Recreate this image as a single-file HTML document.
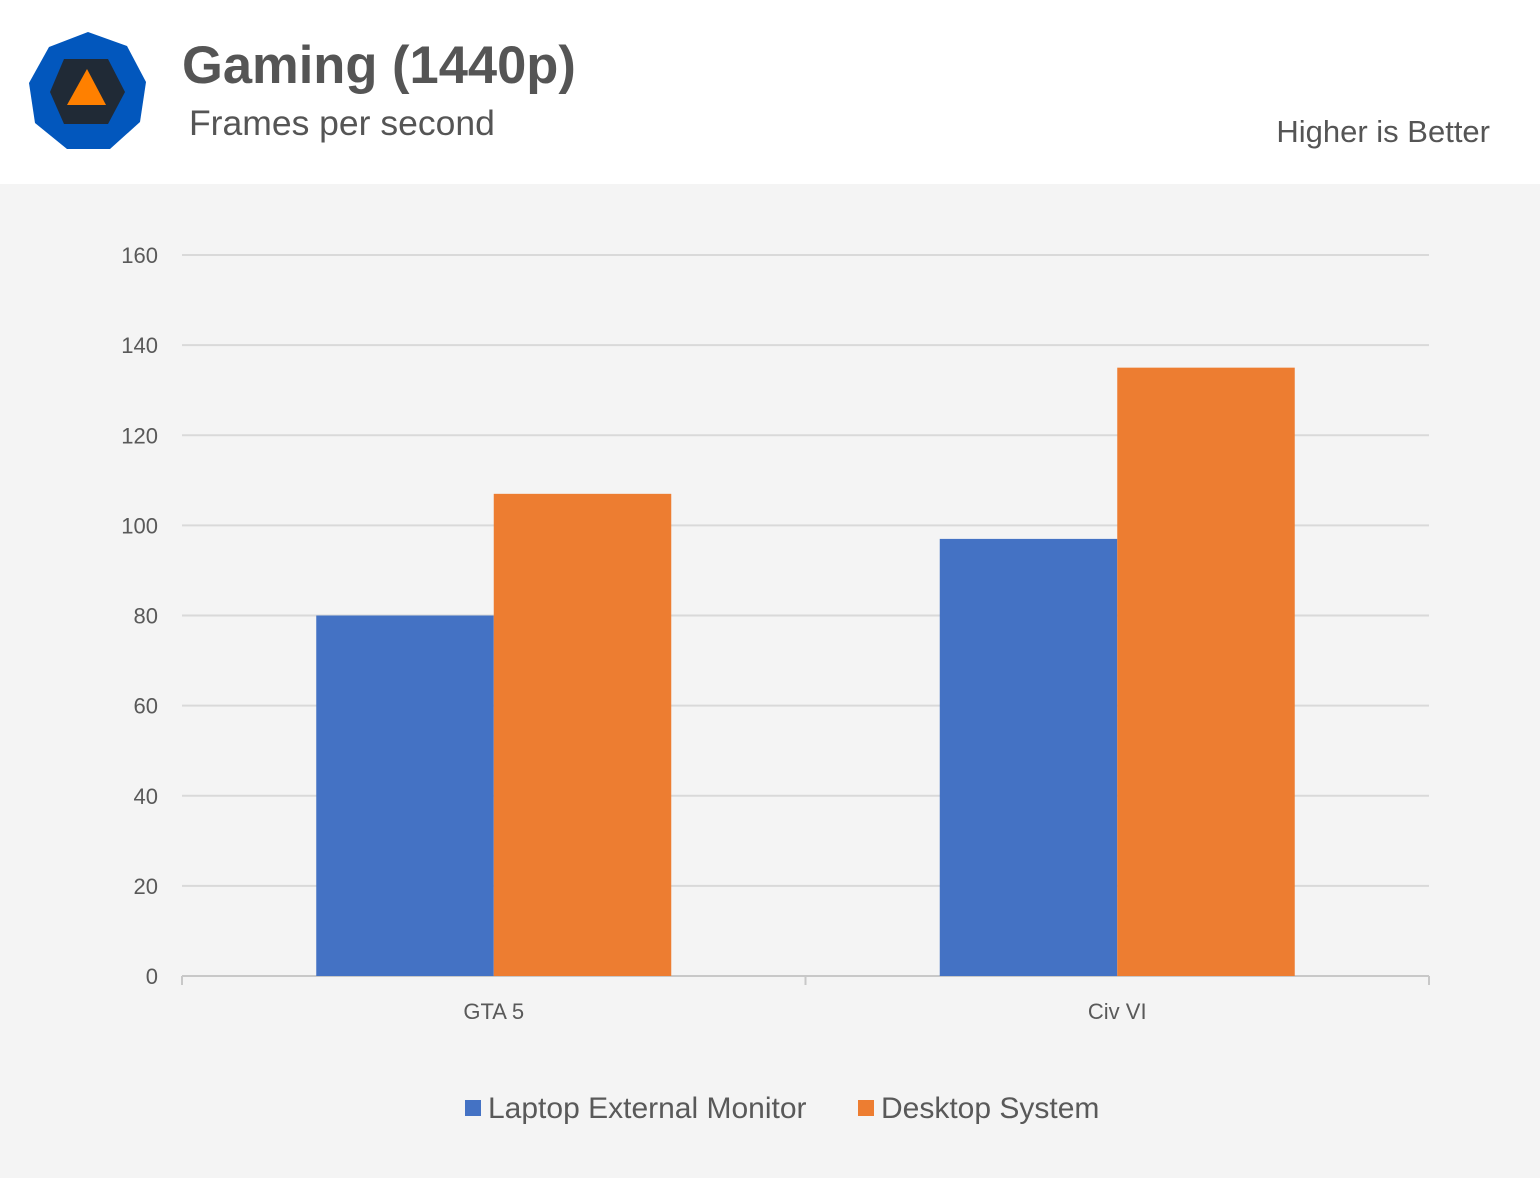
<!DOCTYPE html>
<html><head><meta charset="utf-8"><style>
body{margin:0;width:1540px;height:1178px;background:#f4f4f4;font-family:"Liberation Sans",sans-serif;overflow:hidden;position:relative}
#hdr{position:absolute;left:0;top:0;width:1540px;height:184px;background:#fff}
</style></head><body>
<div id="hdr">
<svg width="170" height="184" style="position:absolute;left:0;top:0">
<polygon points="88,32 127,46 146,82 140,122 110,149 67,149 35,123 29,83 49,47" fill="#0257bd"/>
<polygon points="64,59 108,59 125,92 108,124 64,124 50,92" fill="#202a36"/>
<polygon points="87,69 106,105 67,105" fill="#ff8000"/>
</svg>
<div style="position:absolute;left:182px;top:35px;font-size:52.5px;font-weight:bold;color:#555">Gaming (1440p)</div>
<div style="position:absolute;left:189px;top:103px;font-size:35.5px;color:#555">Frames per second</div>
<div style="position:absolute;right:50px;top:114px;font-size:31px;color:#555">Higher is Better</div>
</div>
<svg id="chart" width="1540" height="1178" style="position:absolute;left:0;top:0"></svg>
<script>
const categories=["GTA 5","Civ VI"];
const laptopValues=[80,97];
const desktopValues=[107,135];
const yTicks=[0,20,40,60,80,100,120,140,160];
const seriesNames=["Laptop External Monitor","Desktop System"];
const colors=["#4472c4","#ed7d31"];
const svg=document.getElementById('chart');const NS="http://www.w3.org/2000/svg";
const x0=182,x1=1429,yBase=976,yTop=255,yMax=160;
const y=v=>yBase-(v/yMax)*(yBase-yTop);
const bw=(x1-x0)/categories.length;
function el(t,a){const e=document.createElementNS(NS,t);for(const k in a)e.setAttribute(k,a[k]);svg.appendChild(e);return e;}
yTicks.forEach(t=>{
 const l=el('line',{x1:x0,x2:x1,y1:y(t),y2:y(t),stroke:t===0?'#c8c8c8':'#d9d9d9','stroke-width':2});
 
 
 const tx=el('text',{x:158,y:y(t)+8,'text-anchor':'end','font-size':22,fill:'#595959','font-family':'Liberation Sans'});tx.textContent=t;
 
 
});
for(let i=0;i<=categories.length;i++){const l=el('line',{x1:x0+i*bw,x2:x0+i*bw,y1:yBase,y2:yBase+9,stroke:'#c8c8c8','stroke-width':2});
 
 }
const barW=177.5;
categories.forEach((c,i)=>{
 const cx=x0+bw*(i+0.5);
 [laptopValues,desktopValues].forEach((arr,s)=>{
  const r=el('rect',{x:cx-barW+s*barW,y:y(arr[i]),width:barW,height:yBase-y(arr[i]),fill:colors[s]});
  
  
 });
 const t=el('text',{x:cx,y:1019,'text-anchor':'middle','font-size':22,fill:'#595959','font-family':'Liberation Sans'});t.textContent=c;
 
 
});
const lx=[465,858];
seriesNames.forEach((n,s)=>{
 const r=el('rect',{x:lx[s],y:1100,width:16,height:16,fill:colors[s]});
 
 
 const t=el('text',{x:lx[s]+23,y:1118,'font-size':30,fill:'#595959','font-family':'Liberation Sans'});t.textContent=n;
 
 
});
</script>
</body></html>
